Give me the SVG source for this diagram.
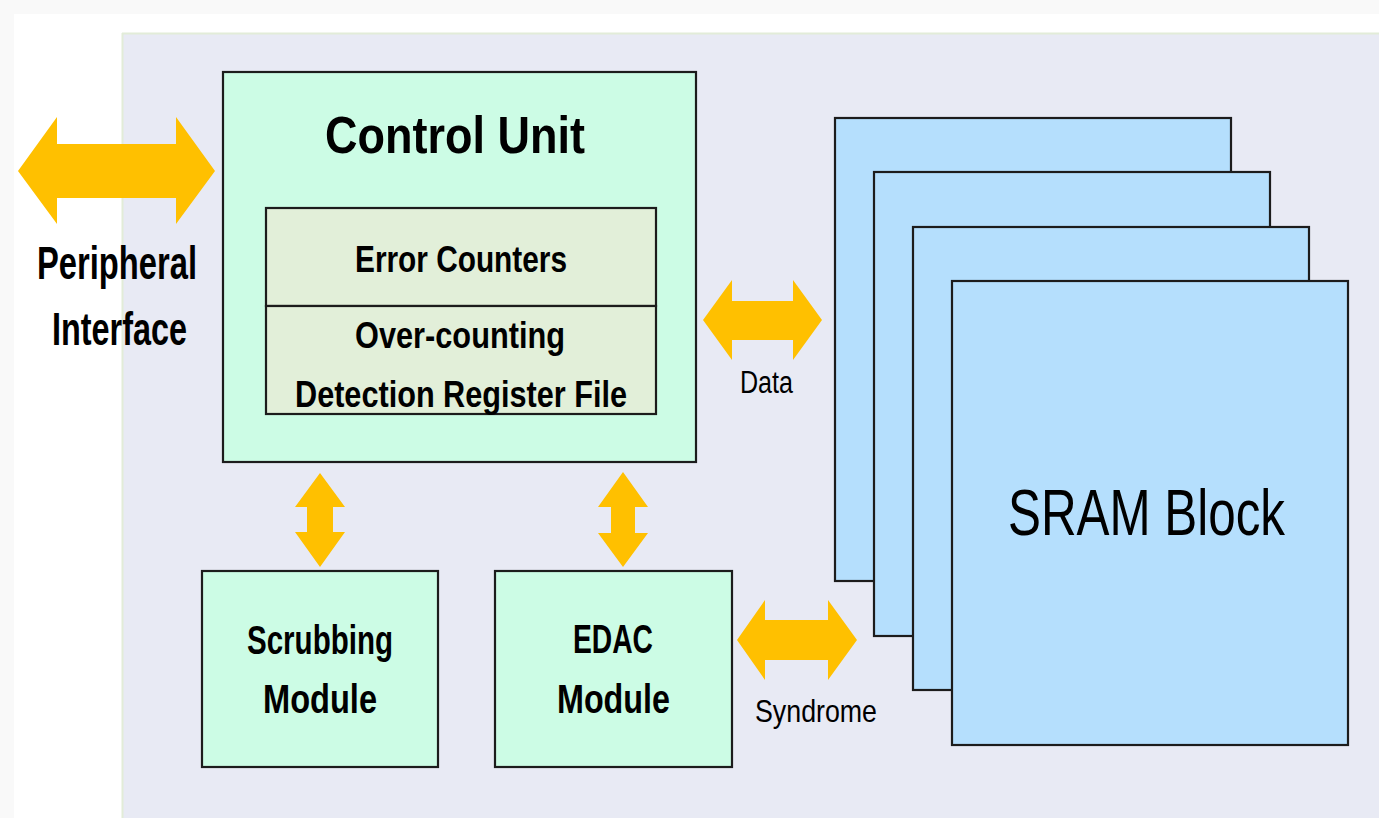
<svg xmlns="http://www.w3.org/2000/svg" width="1379" height="818" viewBox="0 0 1379 818">
<style>
.box{stroke:#1c1c1c;stroke-width:2.2}
.cu{fill:#ccfce5}
.inner{fill:#e2efd9}
.sram{fill:#b5dffd}
.arrow{fill:#ffc000}
.b{font-family:"Liberation Sans",Arial,sans-serif;font-weight:bold;fill:#000}
.r{font-family:"Liberation Sans",Arial,sans-serif;font-weight:normal;fill:#000}
</style>
<rect x="0" y="0" width="1379" height="818" fill="#f9f9f9"/>
<rect x="14" y="14" width="1365" height="804" fill="#ffffff"/>
<rect x="122" y="33" width="1257" height="785" fill="#e8eaf4"/>
<line x1="122" y1="33.5" x2="1379" y2="33.5" stroke="#e2ecd8" stroke-width="2"/>
<line x1="122.5" y1="33" x2="122.5" y2="818" stroke="#e2ecd8" stroke-width="2"/>

<g id="connectors">
  <polygon class="arrow" points="18,171 57,117 57,144 176,144 176,117 215,171 176,224 176,198 57,198 57,224"/>
  <polygon class="arrow" points="703,320 732,280 732,301 793,301 793,280 822,320 793,360 793,340 732,340 732,360"/>
  <polygon class="arrow" points="737,640 765,600 765,620 828,620 828,600 857,640 828,680 828,660 765,660 765,680"/>
  <polygon class="arrow" points="320,473 345,507 333,507 333,532 345,532 320,567 295,532 307,532 307,507 295,507"/>
  <polygon class="arrow" points="623,472 648,507 635,507 635,533 648,533 623,567 598,533 611,533 611,507 598,507"/>
</g>

<g id="peripheral-interface">
  <text class="b" x="37" y="279" font-size="46" textLength="160" lengthAdjust="spacingAndGlyphs">Peripheral</text>
  <text class="b" x="52" y="345" font-size="46" textLength="135" lengthAdjust="spacingAndGlyphs">Interface</text>
</g>

<g id="control-unit">
  <rect class="box cu" x="223" y="72" width="473" height="390"/>
  <text class="b" x="325" y="153" font-size="52" textLength="260" lengthAdjust="spacingAndGlyphs">Control Unit</text>
</g>

<g id="error-counters">
  <rect class="box inner" x="266" y="208" width="390" height="98"/>
  <text class="b" x="355" y="272" font-size="37" textLength="212" lengthAdjust="spacingAndGlyphs">Error Counters</text>
</g>

<g id="over-counting-register">
  <rect class="box inner" x="266" y="306" width="390" height="108"/>
  <text class="b" x="355" y="348" font-size="37" textLength="210" lengthAdjust="spacingAndGlyphs">Over-counting</text>
  <text class="b" x="295" y="407" font-size="37" textLength="332" lengthAdjust="spacingAndGlyphs">Detection Register File</text>
</g>

<g id="scrubbing-module">
  <rect class="box cu" x="202" y="571" width="236" height="196"/>
  <text class="b" x="247" y="654" font-size="40" textLength="146" lengthAdjust="spacingAndGlyphs">Scrubbing</text>
  <text class="b" x="263" y="713" font-size="40" textLength="114" lengthAdjust="spacingAndGlyphs">Module</text>
</g>

<g id="edac-module">
  <rect class="box cu" x="495" y="571" width="237" height="196"/>
  <text class="b" x="573" y="653" font-size="40" textLength="80" lengthAdjust="spacingAndGlyphs">EDAC</text>
  <text class="b" x="557" y="713" font-size="40" textLength="113" lengthAdjust="spacingAndGlyphs">Module</text>
</g>

<g id="sram-blocks">
  <rect class="box sram" x="835" y="118" width="396" height="463"/>
  <rect class="box sram" x="874" y="172" width="396" height="464"/>
  <rect class="box sram" x="913" y="227" width="396" height="463"/>
  <rect class="box sram" x="952" y="281" width="396" height="464"/>
  <text class="r" x="1008" y="535" font-size="65" textLength="277" lengthAdjust="spacingAndGlyphs">SRAM Block</text>
</g>

<g id="labels">
  <text class="r" x="740" y="393" font-size="31" textLength="53" lengthAdjust="spacingAndGlyphs">Data</text>
  <text class="r" x="755" y="722" font-size="32" textLength="122" lengthAdjust="spacingAndGlyphs">Syndrome</text>
</g>
</svg>
